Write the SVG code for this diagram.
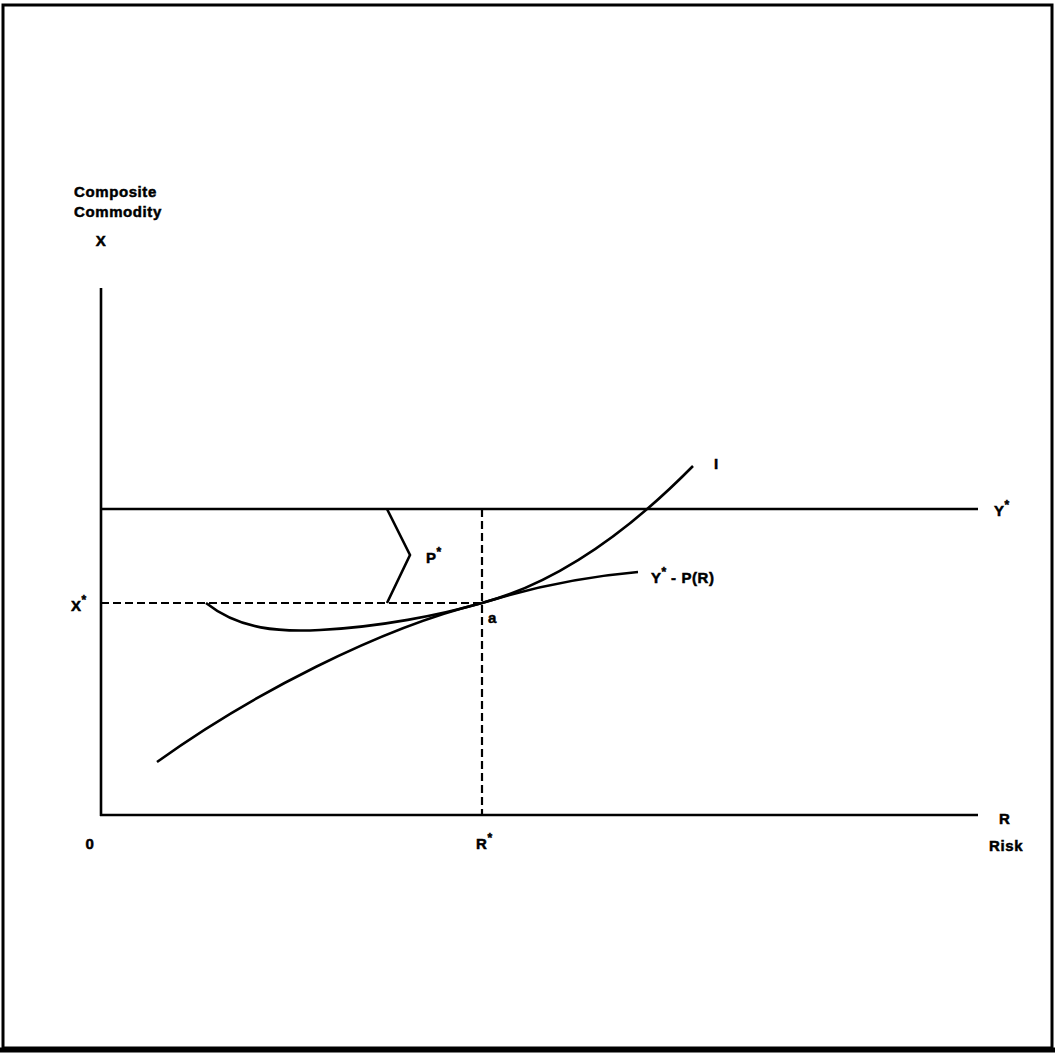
<svg xmlns="http://www.w3.org/2000/svg" width="1055" height="1055" viewBox="0 0 1055 1055">
<style>
.t{font-family:"Liberation Sans",Arial,sans-serif;font-weight:bold;font-size:15px;fill:#000;stroke:#000;stroke-width:0.5;letter-spacing:0.6px}
.s{font-size:12px;letter-spacing:0}
.ln{stroke:#000;stroke-width:2.6;fill:none}
.ds{stroke:#000;stroke-width:2.2;fill:none;stroke-dasharray:8 4}
</style>
<rect width="1055" height="1055" fill="#fff"/>
<g id="frame">
<rect x="3" y="5" width="1049" height="1043" fill="none" stroke="#000" stroke-width="3"/>
<line x1="0" y1="1050" x2="1055" y2="1050" stroke="#000" stroke-width="5"/>
</g>
<g id="axes">
<line class="ln" x1="101" y1="288" x2="101" y2="816" stroke-width="3"/>
<line class="ln" x1="100" y1="815" x2="978" y2="815" stroke-width="3"/>
</g>
<g id="connectors">
<line id="ystar-line" class="ln" x1="101" y1="509" x2="978" y2="509" stroke-width="2"/>
<line id="xstar-dash" class="ds" x1="101" y1="603" x2="483" y2="603"/>
<line id="rstar-dash" class="ds" x1="482" y1="509" x2="482" y2="815"/>
<path id="bracket" class="ln" d="M387,509 L410,555 L387,603"/>
<path id="curve-I" class="ln" d="M157,762 C250,695 380,628 482,603 C560,582 630,530 693,466"/>
<path id="curve-YP" class="ln" d="M206,603 C240,630 280,632 320,630 C380,627 440,615 482,603 C530,588 580,577 638,572"/>
</g>
<g id="labels">
<text class="t" x="74" y="197">Composite</text>
<text class="t" x="74" y="217">Commodity</text>
<text class="t" x="101" y="246" text-anchor="middle">X</text>
<text class="t" x="71" y="611">X<tspan class="s" dy="-7">*</tspan></text>
<text class="t" x="90" y="849" text-anchor="middle">0</text>
<text class="t" x="476" y="849">R<tspan class="s" dy="-7">*</tspan></text>
<text class="t" x="999" y="824">R</text>
<text class="t" x="989" y="851">Risk</text>
<text class="t" x="994" y="516">Y<tspan class="s" dy="-7">*</tspan></text>
<text class="t" x="426" y="563">P<tspan class="s" dy="-7">*</tspan></text>
<text class="t" x="488" y="623">a</text>
<text class="t" x="651" y="583">Y<tspan class="s" dy="-7">*</tspan><tspan dy="7"> - P(R)</tspan></text>
<text class="t" x="714" y="469" font-size="17">I</text>
</g>
</svg>
